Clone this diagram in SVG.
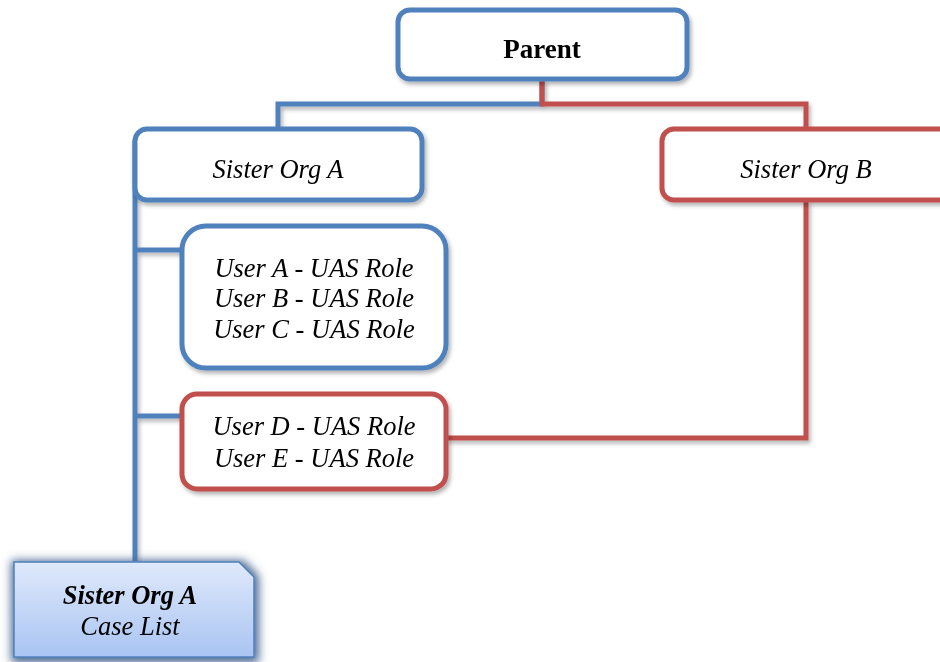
<svg xmlns="http://www.w3.org/2000/svg" width="940" height="662" viewBox="0 0 940 662">
<defs>
<filter id="sh" x="-10%" y="-10%" width="130%" height="140%">
<feDropShadow dx="2" dy="3" stdDeviation="2" flood-color="#000" flood-opacity="0.3"/>
</filter>
<filter id="glow" x="-20%" y="-30%" width="140%" height="160%">
<feMorphology in="SourceAlpha" operator="dilate" radius="3" result="dl"/>
<feGaussianBlur in="dl" stdDeviation="5" result="bl"/>
<feOffset in="bl" dx="1" dy="2" result="of"/>
<feFlood flood-color="#4a6a94" flood-opacity="1"/>
<feComposite operator="in" in2="of" result="sd"/>
<feMerge><feMergeNode in="sd"/><feMergeNode in="SourceGraphic"/></feMerge>
</filter>
<linearGradient id="gr" x1="0" y1="0" x2="0" y2="1">
<stop offset="0" stop-color="#dfe9fb"/>
<stop offset="1" stop-color="#a9c4f2"/>
</linearGradient>
<style>
.b{fill:#fff;stroke:#4f81bd;stroke-width:5}
.r{fill:#fff;stroke:#c0504d;stroke-width:5}
.lb{fill:none;stroke:#4f81bd;stroke-width:5}
.lr{fill:none;stroke:#c0504d;stroke-width:5}
text{font-family:"Liberation Serif","Times New Roman",serif;fill:#000;text-anchor:middle}
.t{font-size:26.5px;font-style:italic}
</style>
</defs>
<g id="connectors" filter="url(#sh)">
<path class="lb" d="M542 80 V104 H278 V128"/>
<path class="lr" d="M542 80 V104 H806 V128"/>
<path class="lb" d="M135 140 V561"/>
<path class="lb" d="M135 250 H182"/>
<path class="lb" d="M135 416 H182"/>
<path class="lr" d="M806 201 V438 H446"/>
</g>
<g id="parent" filter="url(#sh)">
<rect class="b" x="398" y="10" width="289" height="69" rx="12"/>
<text x="542" y="58" font-size="27" font-weight="bold">Parent</text>
</g>
<g id="sisterA" filter="url(#sh)">
<rect class="b" x="135" y="129" width="287" height="71" rx="12"/>
<text class="t" x="278" y="178">Sister Org A</text>
</g>
<g id="sisterB" filter="url(#sh)">
<rect class="r" x="662" y="129" width="290" height="71" rx="12"/>
<text class="t" x="806" y="178">Sister Org B</text>
</g>
<g id="usersABC" filter="url(#sh)">
<rect class="b" x="182" y="226" width="264" height="142" rx="24"/>
<text class="t" x="314" y="277">User A - UAS Role</text>
<text class="t" x="314" y="307">User B - UAS Role</text>
<text class="t" x="314" y="338">User C - UAS Role</text>
</g>
<g id="usersDE" filter="url(#sh)">
<rect class="r" x="182" y="394" width="264" height="95" rx="15"/>
<text class="t" x="314" y="435">User D - UAS Role</text>
<text class="t" x="314" y="467">User E - UAS Role</text>
</g>
<g id="caselist" filter="url(#glow)">
<path d="M14 562 H239 L254 577 V657 H14 Z" fill="url(#gr)" stroke="#4f81bd" stroke-width="1.5"/>
<text x="130" y="604" font-size="26.5" font-weight="bold" font-style="italic">Sister Org A</text>
<text x="130" y="635" font-size="26.5" font-style="italic">Case List</text>
</g>
</svg>
